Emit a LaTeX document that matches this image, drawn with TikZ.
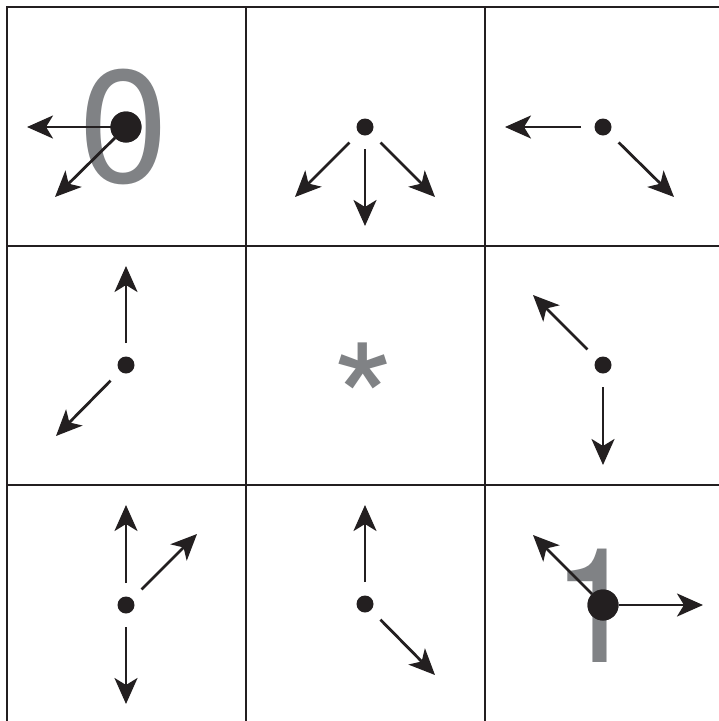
\documentclass[tikz,border=0pt]{standalone}
\usepackage{fontspec}
\newfontfamily\glyphfont{TeX Gyre Heros}
\usetikzlibrary{arrows.meta}
\definecolor{ink}{RGB}{35,31,32}
\definecolor{digitgray}{RGB}{128,130,133}
\tikzset{
  gridline/.style={draw=ink, line width=2.8pt},
  smalldot/.style={circle, fill=ink, inner sep=0pt, outer sep=0pt, minimum size=17pt},
  bigdot/.style={circle, fill=ink, inner sep=0pt, outer sep=0pt, minimum size=31pt},
  arr/.style={draw=ink, line width=2.8pt, -{Stealth[length=26pt, width=23pt, inset=7pt]}},
  gap/.style={arr, shorten <=13.5pt},
  glyph/.style={anchor=base, inner sep=0pt, outer sep=0pt, text=digitgray, font=\glyphfont\fontsize{160}{160}\selectfont}
}
\begin{document}
\begin{tikzpicture}[x=1pt, y=-1pt]
\useasboundingbox (0,0) rectangle (719,721);
\fill[white] (0,0) rectangle (719,721);
\clip (0,0) rectangle (719,721);
% grid
\draw[gridline] (7,7) rectangle (724,724);
\draw[gridline] (246,7) -- (246,730);
\draw[gridline] (485,7) -- (485,730);
\draw[gridline] (7,246) -- (730,246);
\draw[gridline] (7,485) -- (730,485);
% gray glyphs
\node[glyph] (zero) at (123.5,182) {0};
\node[glyph] (one) at (595.6,662.7) {1};
\node[glyph] (star) at (363.6,459) {*};
% dots
\node[bigdot] (d00) at (126,127) {};
\node[smalldot] (d01) at (365,127) {};
\node[smalldot] (d02) at (603,127) {};
\node[smalldot] (d10) at (126,365) {};
\node[smalldot] (d12) at (603,365) {};
\node[smalldot] (d20) at (126,605) {};
\node[smalldot] (d21) at (365,604) {};
\node[bigdot] (d22) at (603,605) {};
% arrow ends
\coordinate (e00a) at (27,127);
\coordinate (e00b) at (55,197);
\coordinate (e01a) at (295,197);
\coordinate (e01b) at (365,226);
\coordinate (e01c) at (435,197);
\coordinate (e02a) at (505,127);
\coordinate (e02b) at (674,197);
\coordinate (e10a) at (126,266);
\coordinate (e10b) at (56,436);
\coordinate (e12a) at (533,295);
\coordinate (e12b) at (603,465);
\coordinate (e20a) at (126,505);
\coordinate (e20b) at (197,534);
\coordinate (e20c) at (126,704);
\coordinate (e21a) at (365,505);
\coordinate (e21b) at (435,675);
\coordinate (e22a) at (533,535);
\coordinate (e22b) at (703,605);
% arrows
\draw[arr] (d00) -- (e00a);
\draw[arr] (d00) -- (e00b);
\draw[gap] (d01) -- (e01a);
\draw[gap] (d01) -- (e01b);
\draw[gap] (d01) -- (e01c);
\draw[gap] (d02) -- (e02a);
\draw[gap] (d02) -- (e02b);
\draw[gap] (d10) -- (e10a);
\draw[gap] (d10) -- (e10b);
\draw[gap] (d12) -- (e12a);
\draw[gap] (d12) -- (e12b);
\draw[gap] (d20) -- (e20a);
\draw[gap] (d20) -- (e20b);
\draw[gap] (d20) -- (e20c);
\draw[gap] (d21) -- (e21a);
\draw[gap] (d21) -- (e21b);
\draw[arr] (d22) -- (e22a);
\draw[arr] (d22) -- (e22b);
% dots on top of the arrows that start at them
\fill[ink] (d00) circle (15.5pt);
\fill[ink] (d22) circle (15.5pt);
\end{tikzpicture}
\end{document}
